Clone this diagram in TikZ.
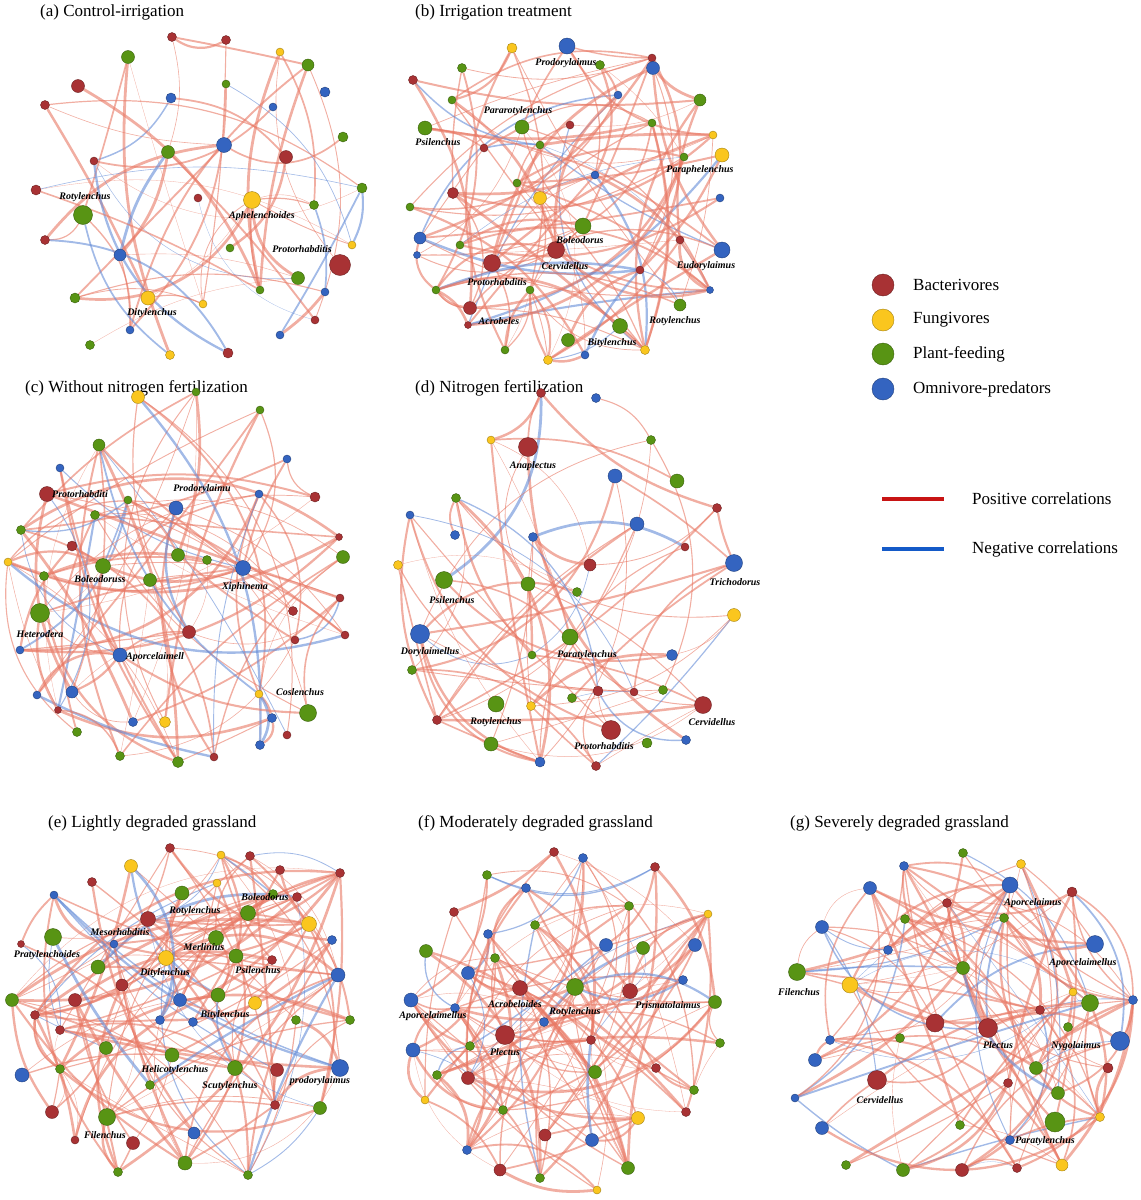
\documentclass[tikz,border=0pt]{standalone}
\usepackage{fontspec}
\setmainfont{Liberation Serif}
\usetikzlibrary{backgrounds}
\definecolor{B}{RGB}{168,50,52}
\definecolor{F}{RGB}{250,198,30}
\definecolor{G}{RGB}{88,148,20}
\definecolor{O}{RGB}{52,100,192}
\definecolor{posc}{RGB}{232,120,100}
\definecolor{negc}{RGB}{100,140,215}
\definecolor{legpos}{RGB}{200,20,20}
\definecolor{legneg}{RGB}{20,90,200}
\tikzset{
 nd/.style={circle,fill=#1,draw=#1!65!black,inner sep=0pt,line width=0.4pt},
 lab/.style={font=\fontsize{10}{12}\selectfont\bfseries\itshape,inner sep=1pt},
 ttl/.style={font=\fontsize{17}{20}\selectfont,anchor=west,inner sep=0pt},
 legt/.style={font=\fontsize{17}{20}\selectfont,anchor=west,inner sep=0pt}
}
\newcommand\mkpanel[3]{%
 \foreach \x/\y/\c/\s [count=\i] in {#3} {\node[nd=\c,minimum size=\s pt] (#1\i) at (\x,\y) {}; \xdef\nn{\i}}
 \begin{pgfonlayer}{background}
 \foreach \k in {1,...,#2} {
   \pgfmathrandominteger{\ia}{1}{\nn}\pgfmathrandominteger{\ib}{1}{\nn}
   \pgfmathrandominteger{\bb}{-35}{35}\pgfmathrandominteger{\ww}{3}{28}\pgfmathrandominteger{\cc}{1}{100}
   \ifnum\ia=\ib\else
   \pgfmathsetmacro\lw{\ww/10}
   \ifnum\cc<16 \def\ec{negc}\else\def\ec{posc}\fi
   \draw[\ec, line width=\lw pt, opacity=0.6] (#1\ia) to[bend left=\bb] (#1\ib);
   \fi }
 \end{pgfonlayer}}
\begin{document}
\begin{tikzpicture}[x=1pt,y=-1pt]
\pgfmathsetseed{7}
\useasboundingbox (0,0) rectangle (1141,1200);
% titles
\node[ttl] (ta) at (40,12) {(a) Control-irrigation};
\node[ttl] (tb) at (415,12) {(b) Irrigation treatment};
\node[ttl] (tc) at (25,388) {(c) Without nitrogen fertilization};
\node[ttl] (td) at (415,388) {(d) Nitrogen fertilization};
\node[ttl] (te) at (48,823) {(e) Lightly degraded grassland};
\node[ttl] (tf) at (418,823) {(f) Moderately degraded grassland};
\node[ttl] (tg) at (790,823) {(g) Severely degraded grassland};
% (a)
\mkpanel{a}{60}{128/57/G/13,172/37/B/9,226/40/B/9,280/52/F/8,308/65/G/12,78/86/B/13,171/98/O/10,226/84/G/8,273/107/O/8,325/92/O/10,45/105/B/9,168/152/G/13,224/145/O/15,286/157/B/13,94/161/B/8,343/137/G/10,36/190/B/10,198/198/B/8,252/200/F/17,314/205/G/9,362/188/G/10,83/215/G/19,120/255/O/12,352/245/F/8,340/265/B/21,230/248/G/8,45/240/B/9,75/298/G/10,148/298/F/14,203/304/F/8,260/290/G/8,298/278/G/13,90/345/G/9,130/330/O/8,170/355/F/9,228/353/B/10,280/335/O/8,315/320/B/8,325/292/O/8}
\node[lab] (la1) at (85,197) {Rotylenchus};
\node[lab] (la2) at (262,216) {Aphelenchoides};
\node[lab] (la3) at (302,249) {Protorhabditis};
\node[lab] (la4) at (152,313) {Ditylenchus};
% (b)
\mkpanel{b}{130}{567/46/O/16,512/48/F/10,652/58/B/8,653/68/O/13,462/68/G/9,600/65/G/9,413/80/B/9,700/100/G/12,713/135/F/8,618/95/O/8,522/127/G/14,425/128/G/14,484/148/B/8,452/100/G/8,570/125/B/8,652/123/G/8,722/155/F/14,684/157/G/8,540/145/G/8,595/175/O/8,540/198/F/13,453/193/B/11,410/207/G/8,517/183/G/8,583/226/G/16,720/198/O/8,556/250/B/17,492/263/B/17,420/238/O/12,417/255/O/7,460/245/G/8,722/250/O/16,680/240/B/8,436/290/G/8,470/308/B/13,468/325/B/7,530/290/G/8,620/326/G/15,680/305/G/12,710/290/O/7,568/340/G/13,505/350/G/8,548/360/F/9,585/355/O/8,645/350/F/9,640/270/B/8}
\node[lab] (lb1) at (566,63) {Prodorylaimus};
\node[lab] (lb2) at (518,111) {Pararotylenchus};
\node[lab] (lb3) at (438,142) {Psilenchus};
\node[lab] (lb4) at (700,170) {Paraphelenchus};
\node[lab] (lb5) at (580,240) {Boleodorus};
\node[lab] (lb6) at (565,266) {Cervidellus};
\node[lab] (lb7) at (497,282) {Protorhabditis};
\node[lab] (lb8) at (706,266) {Eudorylaimus};
\node[lab] (lb9) at (499,321) {Acrobeles};
\node[lab] (lb10) at (675,321) {Rotylenchus};
\node[lab] (lb11) at (612,343) {Bitylenchus};
% (c)
\mkpanel{c}{110}{138/397/F/13,196/392/G/8,99/445/G/12,260/410/G/8,287/459/O/8,47/494/B/15,176/508/O/14,60/468/O/8,95/515/G/9,259/494/O/8,315/497/B/10,21/530/G/9,72/546/B/10,128/500/G/8,343/557/G/13,339/537/B/7,8/562/F/8,103/566/G/15,150/580/G/13,178/555/G/13,207/560/G/9,243/568/O/15,44/576/G/9,40/613/G/19,189/632/B/13,293/611/B/9,340/598/B/8,120/655/O/14,20/650/O/8,295/640/B/8,345/635/B/8,72/692/O/12,37/695/O/8,58/710/B/7,259/694/F/8,308/713/G/17,272/718/O/9,165/722/F/11,133/722/O/9,77/732/G/9,120/756/G/9,178/762/G/11,214/757/B/8,260/745/O/9,287/735/B/8}
\node[lab] (lc1) at (80,494) {Protorhabditi};
\node[lab] (lc2) at (202,489) {Prodorylaimu};
\node[lab] (lc3) at (100,579) {Boleodoruss};
\node[lab] (lc4) at (245,587) {Xiphinema};
\node[lab] (lc5) at (40,634) {Heterodera};
\node[lab] (lc6) at (155,657) {Aporcelaimell};
\node[lab] (lc7) at (300,692) {Coslenchus};
% (d)
\mkpanel{d}{75}{541/393/B/9,596/398/O/9,491/440/F/8,528/447/B/19,651/440/G/9,615/476/O/14,677/481/G/14,456/498/G/9,410/515/O/8,455/535/O/9,533/537/O/9,637/524/O/14,717/508/B/9,685/547/B/8,734/563/O/17,590/565/B/12,528/584/G/14,444/580/G/17,398/565/F/9,577/592/G/9,570/637/G/16,734/615/F/13,420/634/O/19,672/655/O/11,532/655/G/8,496/704/G/16,412/670/G/9,437/720/B/9,598/691/B/10,634/692/B/8,663/690/G/9,531/706/F/9,572/698/G/9,703/705/B/17,611/730/B/19,491/744/G/14,540/762/O/10,596/766/B/9,647/743/G/10,686/740/O/9}
\node[lab] (ld1) at (533,466) {Anaplectus};
\node[lab] (ld2) at (735,582) {Trichodorus};
\node[lab] (ld3) at (452,600) {Psilenchus};
\node[lab] (ld4) at (587,655) {Paratylenchus};
\node[lab] (ld5) at (430,652) {Dorylaimellus};
\node[lab] (ld6) at (496,722) {Rotylenchus};
\node[lab] (ld7) at (712,722) {Cervidellus};
\node[lab] (ld8) at (604,746) {Protorhabditis};
% (e)
\mkpanel{e}{150}{170/848/B/9,131/866/F/13,221/855/F/8,250/856/B/9,92/882/B/9,54/895/O/8,182/893/G/14,217/883/F/8,280/870/B/9,273/894/G/9,297/897/B/9,340/873/B/9,248/913/G/15,148/919/B/15,309/924/F/15,216/938/G/15,53/937/G/17,21/944/B/7,114/944/O/8,332/940/O/9,166/958/F/15,236/956/G/14,98/967/G/14,272/960/B/9,338/975/O/14,180/1000/O/13,75/1000/B/13,122/985/B/12,255/1003/F/13,12/1000/G/13,218/995/G/14,160/1020/O/9,193/1022/O/9,35/1015/B/9,60/1030/B/9,296/1020/G/9,350/1020/G/9,106/1048/G/13,172/1055/G/14,235/1068/G/15,340/1068/O/17,60/1069/G/9,22/1075/O/14,277/1070/B/13,150/1085/G/9,107/1117/G/17,52/1112/B/13,320/1108/G/13,275/1105/B/9,194/1133/O/12,133/1143/B/13,185/1163/G/14,75/1140/B/8,118/1172/G/9,248/1175/G/9}
\node[lab] (le1) at (265,897) {Boleodorus};
\node[lab] (le2) at (120,932) {Mesorhabditis};
\node[lab] (le3) at (195,911) {Rotylenchus};
\node[lab] (le4) at (204,947) {Merlinius};
\node[lab] (le5) at (47,955) {Pratylenchoides};
\node[lab] (le6) at (165,973) {Ditylenchus};
\node[lab] (le7) at (258,970) {Psilenchus};
\node[lab] (le8) at (225,1015) {Bitylenchus};
\node[lab] (le9) at (175,1070) {Helicotylenchus};
\node[lab] (le10) at (230,1086) {Scutylenchus};
\node[lab] (le11) at (320,1081) {prodorylaimus};
\node[lab] (le12) at (105,1135) {Filenchus};
% (f)
\mkpanel{f}{140}{554/852/B/9,583/858/O/9,487/875/G/9,655/867/B/9,526/888/O/9,708/914/F/8,454/912/B/9,629/906/G/9,535/925/G/9,488/934/O/9,426/951/G/13,606/945/O/13,695/945/O/13,643/948/G/13,575/987/G/17,520/988/B/15,630/991/B/15,468/973/O/13,495/958/G/9,683/980/O/9,715/1002/G/13,411/1000/O/14,455/1008/O/9,505/1035/B/19,544/1022/O/9,591/1040/B/9,413/1050/O/14,470/1046/G/9,720/1043/G/9,595/1072/G/13,656/1068/B/9,437/1075/G/9,468/1078/B/13,425/1100/F/8,545/1135/B/12,503/1110/G/9,638/1118/F/13,592/1140/O/13,686/1112/B/9,694/1090/G/9,500/1170/B/12,628/1168/G/13,540/1178/G/9,597/1190/F/8,467/1150/O/9}
\node[lab] (lf1) at (575,1012) {Rotylenchus};
\node[lab] (lf2) at (515,1004) {Acrobeloides};
\node[lab] (lf3) at (668,1005) {Prismatolaimus};
\node[lab] (lf4) at (433,1016) {Aporcelaimellus};
\node[lab] (lf5) at (505,1052) {Plectus};
% (g)
\mkpanel{g}{130}{963/853/G/9,1021/864/F/9,904/866/O/9,870/888/O/13,1010/885/O/16,1072/892/B/10,947/903/B/9,1004/918/G/9,905/919/G/9,822/927/O/13,1095/944/O/17,888/950/O/9,963/968/G/13,797/972/G/17,850/985/F/16,1090/1003/G/17,1133/1000/O/9,1073/992/F/8,935/1023/B/18,988/1028/B/19,1068/1027/G/9,1040/1010/B/9,1120/1041/O/19,830/1040/O/9,900/1038/G/9,815/1060/O/13,1036/1068/G/13,877/1080/B/19,1008/1083/B/9,1058/1093/G/13,1108/1068/B/10,1055/1122/G/20,1100/1117/F/9,795/1098/O/8,960/1125/G/9,822/1128/O/13,1010/1140/O/9,1062/1165/F/12,1017/1168/B/9,962/1170/B/13,903/1170/G/13,846/1165/G/9}
\node[lab] (lg1) at (1033,903) {Aporcelaimus};
\node[lab] (lg2) at (1083,963) {Aporcelaimellus};
\node[lab] (lg3) at (799,992) {Filenchus};
\node[lab] (lg4) at (998,1045) {Plectus};
\node[lab] (lg5) at (1076,1046) {Nygolaimus};
\node[lab] (lg6) at (880,1100) {Cervidellus};
\node[lab] (lg7) at (1045,1141) {Paratylenchus};
% legend
\node[nd=B,minimum size=22pt] (k1) at (883,285) {};
\node[nd=F,minimum size=22pt] (k2) at (883,320) {};
\node[nd=G,minimum size=22pt] (k3) at (883,354) {};
\node[nd=O,minimum size=22pt] (k4) at (883,389) {};
\node[legt] (kt1) at (913,285) {Bacterivores};
\node[legt] (kt2) at (913,320) {Fungivores};
\node[legt] (kt3) at (913,354) {Plant-feeding};
\node[legt] (kt4) at (913,389) {Omnivore-predators};
\coordinate (p1) at (882,499); \coordinate (p2) at (944,499);
\coordinate (n1) at (882,549); \coordinate (n2) at (944,549);
\draw[legpos,line width=4pt] (p1) -- (p2);
\draw[legneg,line width=4pt] (n1) -- (n2);
\node[legt] (kt5) at (972,499) {Positive correlations};
\node[legt] (kt6) at (972,549) {Negative correlations};
\end{tikzpicture}
\end{document}
